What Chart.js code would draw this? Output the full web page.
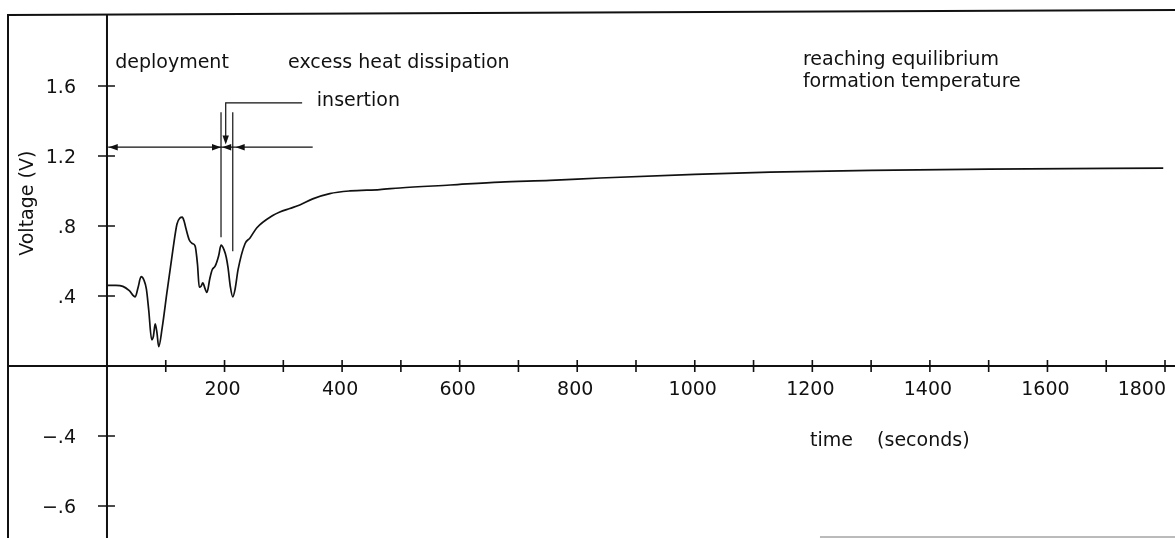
<!DOCTYPE html>
<html>
<head>
<meta charset="utf-8">
<script src="https://cdn.jsdelivr.net/npm/chart.js@4.4.1/dist/chart.umd.min.js"></script>
<style>
    html, body { margin: 0; padding: 0; background: #fff; }
    #wrap { width: 1175px; height: 538px; }
</style>
</head>
<body>
<div id="wrap"><canvas id="chart" width="1175" height="538"></canvas></div>
<script>
// Probe voltage (time in seconds, voltage in V)
const timeSeconds = [0, 15, 27, 38, 48, 53, 58, 63, 67, 71, 76, 79, 82, 85, 88, 94, 102, 112, 119, 124,
    128, 131, 134, 140, 145, 150, 154, 157, 160, 163, 167, 170, 175, 179, 184, 190, 194, 199, 203, 206,
    210, 214, 218, 223, 235, 243, 255, 282, 294, 311, 328, 350, 379, 413, 464, 498, 584, 669, 754, 839,
    1000, 1128, 1300, 1500, 1797];
const voltage = [0.46, 0.46, 0.455, 0.43, 0.395, 0.45, 0.51, 0.49, 0.44, 0.32, 0.15, 0.17, 0.24, 0.19, 0.11, 0.22, 0.42, 0.66, 0.81, 0.845,
    0.85, 0.83, 0.79, 0.72, 0.70, 0.685, 0.58, 0.45, 0.455, 0.475, 0.44, 0.42, 0.50, 0.55, 0.57, 0.63, 0.69, 0.665, 0.62, 0.56,
    0.45, 0.395, 0.44, 0.55, 0.70, 0.73, 0.79, 0.86, 0.88, 0.90, 0.92, 0.955, 0.985, 1.0, 1.008, 1.017, 1.034, 1.051, 1.06, 1.074,
    1.095, 1.108, 1.118, 1.125, 1.13];

// Axis ticks
const xTickValues = [200, 400, 600, 800, 1000, 1200, 1400, 1600, 1800];
const xMinorTicks = [100, 300, 500, 700, 900, 1100, 1300, 1500, 1700];
const yTickValues = [1.6, 1.2, 0.8, 0.4, -0.4, -0.8];
const yTickLabels = ['1.6', '1.2', '.8', '.4', '\u2212.4', '\u2212.6'];

const ink = '#111';
const font = '"DejaVu Sans", Verdana, sans-serif';

function arrowHead(ctx, tipX, tipY, angle) {
    const len = 9, half = 3.2;
    ctx.save();
    ctx.translate(tipX, tipY);
    ctx.rotate(angle);
    ctx.beginPath();
    ctx.moveTo(0, 0);
    ctx.lineTo(-len, -half);
    ctx.lineTo(-len, half);
    ctx.closePath();
    ctx.fill();
    ctx.restore();
}

// Draws the paper-style frame, axes crossing at zero, tick labels and notes
const paperPlugin = {
    id: 'paper',
    afterDatasetsDraw(chart) {
        const { ctx, chartArea: a, scales: { x, y } } = chart;
        const X = v => x.getPixelForValue(v);
        const Y = v => y.getPixelForValue(v);
        ctx.save();
        ctx.strokeStyle = ink;
        ctx.fillStyle = ink;

        // frame
        ctx.lineWidth = 2;
        ctx.beginPath();
        ctx.moveTo(a.left + 1, a.bottom);
        ctx.lineTo(a.left + 1, a.top + 5);
        ctx.lineTo(a.right, a.top);
        ctx.stroke();
        ctx.lineWidth = 1;
        ctx.strokeStyle = '#777';
        ctx.beginPath();
        ctx.moveTo(X(1213), a.bottom - 1);
        ctx.lineTo(a.right, a.bottom - 1);
        ctx.stroke();
        ctx.strokeStyle = ink;

        // axes
        ctx.lineWidth = 2;
        ctx.beginPath();
        ctx.moveTo(X(0), a.top + 5);
        ctx.lineTo(X(0), a.bottom);
        ctx.moveTo(a.left, Y(0));
        ctx.lineTo(a.right, Y(0));
        ctx.stroke();

        // tick marks
        ctx.lineWidth = 1.6;
        ctx.beginPath();
        yTickValues.forEach(v => {
            ctx.moveTo(X(0) - 9, Y(v));
            ctx.lineTo(X(0) + 8, Y(v));
        });
        xTickValues.concat(xMinorTicks).forEach(v => {
            ctx.moveTo(X(v), Y(0) - 6);
            ctx.lineTo(X(v), Y(0) + 6);
        });
        ctx.stroke();

        // tick labels
        ctx.font = '19px ' + font;
        ctx.textAlign = 'right';
        ctx.textBaseline = 'alphabetic';
        yTickValues.forEach((v, i) => {
            ctx.fillText(yTickLabels[i], X(0) - 31, Y(v) + 7);
        });
        xTickValues.forEach((v, i) => {
            const last = i === xTickValues.length - 1;
            ctx.textAlign = last ? 'right' : 'center';
            ctx.fillText(String(v), last ? X(v) + 1 : X(v) - 2, Y(0) + 29);
        });

        // axis titles
        ctx.textAlign = 'left';
        ctx.fillText('time    (seconds)', X(1196), Y(-0.457));
        ctx.save();
        ctx.translate(X(-126), Y(0.93));
        ctx.rotate(-Math.PI / 2);
        ctx.textAlign = 'center';
        ctx.fillText('Voltage (V)', 0, 0);
        ctx.restore();

        // stage notes
        ctx.fillText('deployment', X(14), Y(1.703));
        ctx.fillText('excess heat dissipation', X(308), Y(1.703));
        ctx.fillText('insertion', X(357), Y(1.486));
        ctx.fillText('reaching equilibrium', X(1184), Y(1.72));
        ctx.fillText('formation temperature', X(1184), Y(1.594));

        // stage arrows
        ctx.lineWidth = 1.2;
        ctx.beginPath();
        ctx.moveTo(X(2), Y(1.25));
        ctx.lineTo(X(350), Y(1.25));
        // insertion marker lines
        ctx.moveTo(X(194), Y(1.45));
        ctx.lineTo(X(194), Y(0.735));
        ctx.moveTo(X(214), Y(1.45));
        ctx.lineTo(X(214), Y(0.655));
        // insertion leader
        ctx.moveTo(X(332), Y(1.503));
        ctx.lineTo(X(202), Y(1.503));
        ctx.lineTo(X(202), Y(1.28));
        ctx.stroke();
        arrowHead(ctx, X(3), Y(1.25), Math.PI);
        arrowHead(ctx, X(194), Y(1.25), 0);
        arrowHead(ctx, X(196), Y(1.25), Math.PI);
        arrowHead(ctx, X(219), Y(1.25), Math.PI);
        arrowHead(ctx, X(202), Y(1.265), Math.PI / 2);

        ctx.restore();
    }
};

const ctx = document.getElementById('chart').getContext('2d');
new Chart(ctx, {
    type: 'line',
    data: {
        datasets: [{
            label: 'Voltage',
            data: timeSeconds.map((t, i) => ({ x: t, y: voltage[i] })),
            borderColor: ink,
            borderWidth: 1.7,
            pointRadius: 0,
            fill: false,
            cubicInterpolationMode: 'monotone'
        }]
    },
    options: {
        responsive: false,
        animation: false,
        layout: { padding: { left: 7, top: 10, right: 0, bottom: 0 } },
        plugins: {
            legend: { display: false },
            tooltip: { enabled: false }
        },
        scales: {
            x: { type: 'linear', display: false, min: -170.1, max: 1817 },
            y: { type: 'linear', display: false, min: -0.983, max: 2.034 }
        }
    },
    plugins: [paperPlugin]
});
</script>
</body>
</html>
